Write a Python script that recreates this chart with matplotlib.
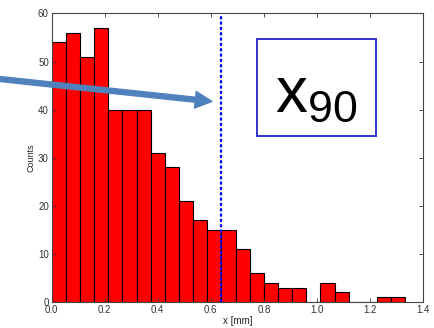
import numpy as np
import matplotlib
matplotlib.use('Agg')
import matplotlib.pyplot as plt
from matplotlib.patches import Rectangle

# histogram of particle sizes, 25 equal bins from 0 to ~1.333 mm
BIN_MIN = 0.0
BIN_MAX = 1.333
counts = [54, 56, 51, 57, 40, 40, 40, 31, 28, 21, 17, 15, 15, 11, 6, 4, 3, 3, 0, 4, 2, 0, 0, 1, 1]
x90 = 0.637
x_ticks = [0.0, 0.2, 0.4, 0.6, 0.8, 1.0, 1.2, 1.4]
y_ticks = [0, 10, 20, 30, 40, 50, 60]

ARROW_COLOR = '#4F81BD'
BOX_COLOR = '#3333CC'

plt.rcParams['font.family'] = ['Liberation Sans', 'DejaVu Sans']
plt.rcParams['mathtext.fontset'] = 'custom'
plt.rcParams['mathtext.rm'] = 'Liberation Sans'
plt.rcParams['mathtext.it'] = 'Liberation Sans'

fig = plt.figure(figsize=(4.34, 3.28), dpi=100)
ax = fig.add_axes([0.119, 0.079, 0.856, 0.880])

edges = np.linspace(BIN_MIN, BIN_MAX, len(counts) + 1)
ax.bar(edges[:-1], counts, width=np.diff(edges), align='edge',
       color='#FF0000', edgecolor='black', linewidth=0.8)

ax.axvline(x90, color='blue', linestyle=(0, (1.4, 1.0)), linewidth=1.6)

ax.set_xlim(0, 1.4)
ax.set_ylim(0, 60)
ax.set_xticks(x_ticks)
ax.set_xticklabels([f'{t:.1f}' for t in x_ticks])
ax.set_yticks(y_ticks)
ax.tick_params(direction='in', top=True, right=True, length=3, width=0.6,
               labelsize=7, colors='#333333', pad=2)
for s in ax.spines.values():
    s.set_color('#444444')
    s.set_linewidth(0.8)
ax.set_xlabel('x [mm]', fontsize=7, labelpad=1, color='#222222')
ax.set_ylabel('Counts', fontsize=6.5, labelpad=2, color='#222222')

# x90 label box
fig.patches.append(Rectangle((0.592, 0.585), 0.274, 0.296, transform=fig.transFigure,
                             fill=False, edgecolor=BOX_COLOR, linewidth=1.4))
fig.text(0.728, 0.6585, r'x$_{90}$', fontsize=46, ha='center', va='baseline')

# arrow coming in from outside the axes
ax.annotate('', xy=(0.604, 41.7), xycoords='data',
            xytext=(0.0, 0.759), textcoords='figure fraction',
            annotation_clip=False,
            arrowprops=dict(arrowstyle='simple,head_length=1.0,head_width=1.0,tail_width=0.3',
                            mutation_scale=12, color=ARROW_COLOR,
                            shrinkA=0, shrinkB=0))

fig.savefig('out.png', dpi=100)
